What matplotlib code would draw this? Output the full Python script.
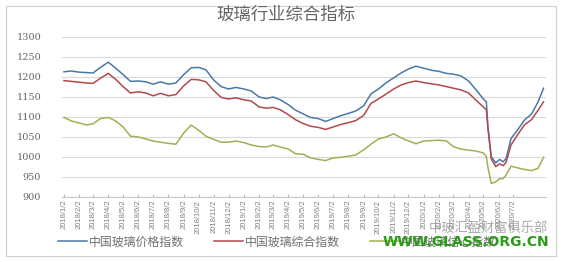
import matplotlib
matplotlib.use("Agg")
import matplotlib.pyplot as plt
from matplotlib.patches import Rectangle
from matplotlib.lines import Line2D
import pandas as pd

plt.rcParams['font.family'] = ['Noto Sans CJK SC', 'DejaVu Sans']

dates = [
    "2018-01-02", "2018-01-17", "2018-02-02", "2018-02-17", "2018-03-02", "2018-03-17",
    "2018-04-02", "2018-04-17", "2018-05-02", "2018-05-17", "2018-06-02", "2018-06-17",
    "2018-07-02", "2018-07-17", "2018-08-02", "2018-08-17", "2018-09-02", "2018-09-17",
    "2018-10-02", "2018-10-17", "2018-11-02", "2018-11-17", "2018-12-02", "2018-12-17",
    "2019-01-02", "2019-01-17", "2019-02-02", "2019-02-17", "2019-03-02", "2019-03-17",
    "2019-04-02", "2019-04-17", "2019-05-02", "2019-05-17", "2019-06-02", "2019-06-17",
    "2019-07-02", "2019-07-17", "2019-08-02", "2019-08-17", "2019-09-02", "2019-09-17",
    "2019-10-02", "2019-10-17", "2019-11-02", "2019-11-17", "2019-12-02", "2019-12-17",
    "2020-01-02", "2020-01-17", "2020-02-02", "2020-02-17", "2020-03-02", "2020-03-17",
    "2020-04-02", "2020-04-17", "2020-05-02", "2020-05-08", "2020-05-11", "2020-05-18",
    "2020-05-27", "2020-06-04", "2020-06-11", "2020-06-17", "2020-06-27", "2020-07-10",
    "2020-07-24", "2020-08-08", "2020-08-21", "2020-09-01",
]

price_index = [
    1213, 1215, 1212, 1211, 1210, 1224, 1237, 1222, 1206, 1189, 1190, 1188,
    1182, 1188, 1182, 1185, 1206, 1223, 1224, 1218, 1192, 1176, 1170, 1174,
    1170, 1165, 1150, 1146, 1150, 1143, 1131, 1117, 1108, 1099, 1096, 1089,
    1096, 1103, 1109, 1115, 1128, 1158, 1170, 1185, 1198, 1210, 1220, 1227,
    1222, 1217, 1214, 1209, 1207, 1203, 1190, 1168, 1145,
    1138, 1076, 1001, 985, 994, 988, 996, 1046, 1067, 1092, 1108, 1138, 1172,
]

composite_index = [
    1191, 1189, 1187, 1185, 1184, 1197, 1209, 1194, 1176, 1160, 1163, 1160,
    1153, 1159, 1153, 1156, 1178, 1194, 1193, 1188, 1166, 1149, 1145, 1148,
    1143, 1140, 1125, 1122, 1124, 1118, 1106, 1093, 1084, 1077, 1074, 1069,
    1075, 1081, 1086, 1091, 1104, 1134, 1145, 1157, 1170, 1180, 1186, 1190,
    1186, 1183, 1180, 1176, 1172, 1168, 1160, 1142, 1125,
    1118, 1076, 995, 976, 983, 978, 987, 1030, 1055, 1080, 1094, 1117, 1138,
]

confidence_index = [
    1099, 1090, 1085, 1080, 1083, 1096, 1099, 1090, 1075, 1052, 1050, 1045,
    1040, 1037, 1034, 1032, 1060, 1080, 1067, 1052, 1044, 1037, 1037, 1040,
    1036, 1030, 1026, 1025, 1030, 1025, 1020, 1008, 1007, 998, 994, 991,
    998, 999, 1002, 1005, 1018, 1032, 1045, 1050, 1058, 1048, 1040, 1033,
    1040, 1041, 1042, 1040, 1026, 1020, 1017, 1015, 1010,
    1001, 975, 934, 938, 946, 946, 955, 977, 973, 969, 966, 972, 999,
]

series_names = ["中国玻璃价格指数", "中国玻璃综合指数", "中国玻璃信心指数"]
series_colors = ["#4a78a8", "#b04a4e", "#9cb252"]

tick_dates = pd.date_range("2018-01-01", "2020-07-01", freq="MS") + pd.Timedelta(days=1)
tick_labels = [f"{d.year}/{d.month}/2" for d in tick_dates]
y_ticks = [900, 950, 1000, 1050, 1100, 1150, 1200, 1250, 1300]

W, H = 564, 262
fig = plt.figure(figsize=(W / 100, H / 100), dpi=100)
fig.patch.set_facecolor("white")
fig.patches.append(Rectangle((6 / W, 6 / H), 550 / W, 250 / H, transform=fig.transFigure,
                             fill=False, edgecolor="#d0d0d0", linewidth=0.8, zorder=0))

ax = fig.add_axes([62 / W, 1 - 197 / H, (546 - 62) / W, 160 / H])
x = pd.to_datetime(dates)
for vals, name, col in zip([price_index, composite_index, confidence_index], series_names, series_colors):
    ax.plot(x, vals, color=col, linewidth=1.1, label=name, zorder=3)

ax.set_ylim(900, 1300)
ax.set_xlim(pd.Timestamp("2017-12-29"), pd.Timestamp("2020-09-06"))
ax.set_yticks(y_ticks)
ax.set_yticklabels([str(v) for v in y_ticks], family="DejaVu Serif", fontsize=7, color="#666666")
ax.tick_params(axis="y", length=0, pad=15)
ax.set_xticks(tick_dates)
ax.set_xticklabels(tick_labels, rotation=90, fontsize=5.5, color="#808080",
                   family=["Liberation Sans Narrow", "Liberation Sans"])
ax.tick_params(axis="x", length=2.5, color="#bfbfbf", pad=2, direction="in")
ax.grid(axis="y", color="#d9d9d9", linewidth=0.8)
ax.set_axisbelow(True)
for s in ["top", "right", "left"]:
    ax.spines[s].set_visible(False)
ax.spines["bottom"].set_color("#c8c8c8")
ax.spines["bottom"].set_linewidth(0.8)

fig.text(0.507, 1 - 15 / H, "玻璃行业综合指标", ha="center", va="center", fontsize=12.5,
         color="#666666", fontweight="light")

handles = [Line2D([0], [0], color=c, linewidth=1.1) for c in series_colors]
leg = fig.legend(handles, series_names, loc="center left", bbox_to_anchor=(58 / W, 1 - 242 / H),
                 ncol=3, frameon=False, fontsize=8.6, handlelength=2.4, handletextpad=0.2,
                 columnspacing=2.5, borderaxespad=0, borderpad=0)
for t in leg.get_texts():
    t.set_color("#707070")

fig.text(548 / W, 1 - 228 / H, "中玻汇盈财富俱乐部", ha="right", va="center", fontsize=9.5,
         color="#9a9a9a", alpha=0.85, zorder=10)
fig.text(549 / W, 1 - 242 / H, "WWW.GLASS.ORG.CN", ha="right", va="center", fontsize=10,
         color="#2c9a1a", fontweight="heavy", family="DejaVu Sans", zorder=11)

fig.savefig("out.png", dpi=100, facecolor="white")
